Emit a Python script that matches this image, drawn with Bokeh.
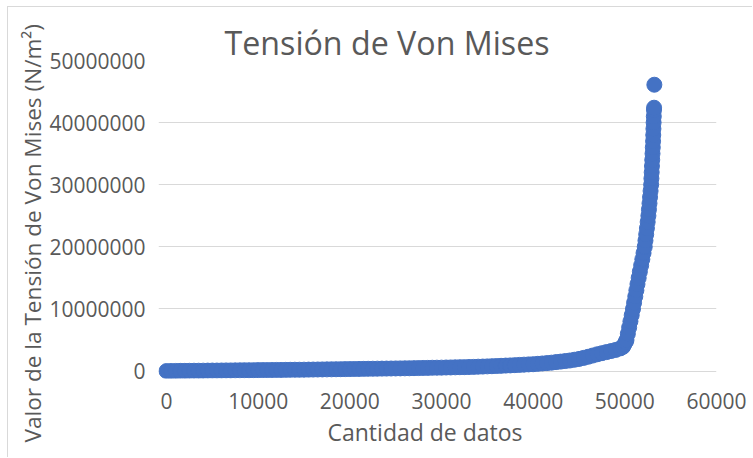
from bokeh.plotting import figure
from bokeh.models import Range1d, FixedTicker, BasicTickFormatter, ColumnDataSource, Title
from bokeh.embed import file_html
from bokeh.resources import INLINE

# ---- data ----
titulo = "Tensión de Von Mises"
x_label = "Cantidad de datos"
y_label = "Valor de la Tensión de Von Mises (N/m²)"

x_ticks = [0, 10000, 20000, 30000, 40000, 50000, 60000]
y_ticks = [0, 10000000, 20000000, 30000000, 40000000, 50000000]

# flat part of the curve (index of datum, tension in millions of N/m2)
datos_x_1 = [0, 500, 1000, 1500, 2000, 2500, 3000, 3500, 4000, 4500,
             5000, 5500, 6000, 6500, 7000, 7500, 8000, 8500, 9000, 9500,
             10000, 10500, 11000, 11500, 12000, 12500, 13000, 13500, 14000, 14500,
             15000, 15500, 16000, 16500, 17000, 17500, 18000, 18500, 19000, 19500,
             20000, 20500, 21000, 21500, 22000, 22500, 23000, 23500, 24000, 24500,
             25000, 25500, 26000, 26500, 27000, 27500, 28000, 28500, 29000, 29500,
             30000, 30500, 31000, 31500, 32000, 32500, 33000, 33500, 34000, 34500,
             35000, 35500, 36000, 36500, 37000, 37500, 38000, 38500, 39000, 39500,
             40000, 40500, 41000, 41500, 42000, 42500, 43000, 43500, 44000, 44500,
             45000, 45500, 46000, 46500, 47000, 47500, 48000, 48500, 49000, 49500]
tension_mill_1 = [0.00, 0.01, 0.02, 0.03, 0.03, 0.04, 0.05, 0.05, 0.06, 0.07,
                  0.08, 0.08, 0.09, 0.10, 0.10, 0.11, 0.12, 0.13, 0.13, 0.14,
                  0.15, 0.16, 0.16, 0.17, 0.18, 0.18, 0.19, 0.20, 0.21, 0.21,
                  0.22, 0.23, 0.24, 0.25, 0.26, 0.27, 0.28, 0.29, 0.30, 0.31,
                  0.32, 0.33, 0.34, 0.35, 0.36, 0.37, 0.38, 0.39, 0.40, 0.41,
                  0.42, 0.43, 0.44, 0.45, 0.47, 0.48, 0.50, 0.51, 0.53, 0.54,
                  0.55, 0.57, 0.58, 0.60, 0.62, 0.63, 0.65, 0.67, 0.70, 0.72,
                  0.75, 0.78, 0.81, 0.84, 0.88, 0.91, 0.95, 0.99, 1.03, 1.07,
                  1.10, 1.16, 1.22, 1.28, 1.35, 1.44, 1.52, 1.61, 1.70, 1.82,
                  1.95, 2.12, 2.30, 2.50, 2.70, 2.88, 3.05, 3.22, 3.40, 3.65]

# steep part of the curve
datos_x_2 = [49800, 49950, 50100, 50180, 50330, 50470, 50610, 50750, 50890, 51010,
             51140, 51260, 51380, 51510, 51640, 51780, 51910, 52040, 52170, 52250,
             52330, 52410, 52490, 52570, 52630, 52690, 52750, 52810, 52870, 52900,
             52930, 52960, 52990, 53020, 53050, 53080, 53100, 53120, 53140, 53160,
             53180, 53190, 53220]
tension_mill_2 = [3.9, 4.3, 4.7, 5.0, 6.0, 7.0, 8.0, 9.0, 10.0, 11.0,
                  12.0, 13.0, 14.0, 15.0, 16.0, 17.0, 18.0, 19.0, 20.0, 21.0,
                  22.0, 23.0, 24.0, 25.0, 26.0, 27.0, 28.0, 29.0, 30.0, 31.0,
                  32.0, 33.0, 34.0, 35.0, 36.0, 37.0, 38.0, 39.0, 40.0, 41.0,
                  42.0, 42.4, 46.1]

xs = datos_x_1 + datos_x_2
ys = [v * 1e6 for v in tension_mill_1 + tension_mill_2]

GRAY = "#595959"
BLUE = "#4472C4"
FONT = "Open Sans"

p = figure(width=745, height=451, output_backend="svg", toolbar_location=None,
           x_range=Range1d(-873, 60000), y_range=Range1d(-1.2e6, 50e6),
           min_border_left=150, min_border_right=37, min_border_top=53,
           min_border_bottom=80,
           styles={"margin-left": "7px", "margin-top": "6px",
                   "border-left": "1px solid #d9d9d9",
                   "border-top": "1px solid #d9d9d9"})

p.title.text = titulo
p.title.text_font = FONT
p.title.text_font_size = "32.2px"
p.title.text_font_style = "normal"
p.title.text_color = GRAY
p.title.align = "left"
p.title.offset = 66
p.title.standoff = -6

p.outline_line_color = None
p.background_fill_color = "white"
p.border_fill_color = "white"

src = ColumnDataSource(dict(x=xs, y=ys))
p.scatter("x", "y", source=src, size=15, fill_color=BLUE, line_color=BLUE)

# axes
p.xaxis.ticker = FixedTicker(ticks=x_ticks)
p.yaxis.ticker = FixedTicker(ticks=y_ticks)
p.yaxis.formatter = BasicTickFormatter(use_scientific=False)
p.xaxis.formatter = BasicTickFormatter(use_scientific=False)
for ax in (p.xaxis[0], p.yaxis[0]):
    ax.axis_line_color = None
    ax.major_tick_line_color = None
    ax.minor_tick_line_color = None
    ax.major_label_text_font = FONT
    ax.major_label_text_font_size = "21px"
    ax.major_label_text_color = GRAY
p.xaxis.major_label_standoff = 8
p.yaxis.major_label_standoff = 7

# axis titles as side titles, so they can be shifted along the axis
x_title = Title(text=x_label, align="left", offset=169, standoff=4,
                text_font=FONT, text_font_size="23px", text_font_style="normal",
                text_color=GRAY)
y_title = Title(text=y_label, align="left", offset=-64, standoff=-3,
                text_font=FONT, text_font_size="22.6px", text_font_style="normal",
                text_color=GRAY)
p.add_layout(x_title, "below")
p.add_layout(y_title, "left")

p.xgrid.grid_line_color = None
p.ygrid.grid_line_color = "#d9d9d9"
p.ygrid.grid_line_width = 1
p.ygrid.ticker = FixedTicker(ticks=y_ticks)

open("out.html", "w").write(file_html(p, INLINE))
